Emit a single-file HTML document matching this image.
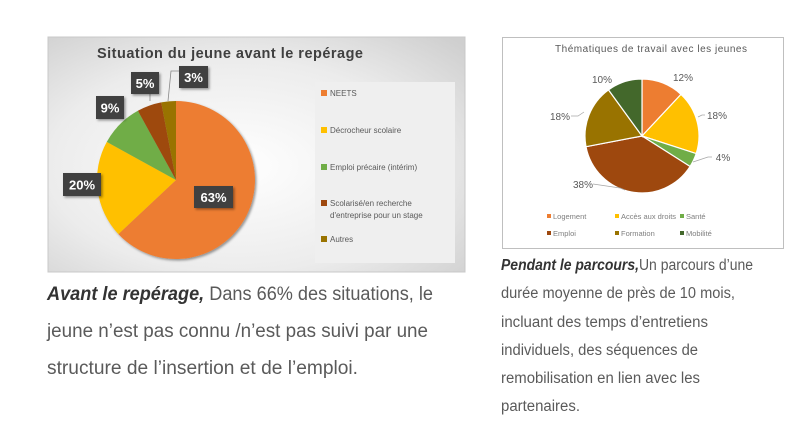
<!DOCTYPE html>
<html><head><meta charset="utf-8"><style>
html,body{margin:0;padding:0;background:#fff;}
svg{display:block;}
</style></head><body>
<svg width="811" height="433" viewBox="0 0 811 433" xmlns="http://www.w3.org/2000/svg" font-family="Liberation Sans, sans-serif">
<defs>
<radialGradient id="bg" cx="0.45" cy="0.55" r="0.75">
<stop offset="0" stop-color="#ffffff"/><stop offset="0.6" stop-color="#ececec"/><stop offset="1" stop-color="#cfcfcf"/>
</radialGradient>
<filter id="sh" x="-20%" y="-20%" width="150%" height="150%"><feDropShadow dx="1.5" dy="1.5" stdDeviation="1.2" flood-opacity="0.4"/></filter>
</defs>
<rect x="0" y="0" width="811" height="433" fill="#fff"/>
<!-- Left chart -->
<rect x="48" y="37" width="417" height="235" fill="url(#bg)" stroke="#c8c8c8" stroke-width="1"/>
<text x="230" y="58" text-anchor="middle" font-size="14.5" font-weight="bold" fill="#404040" textLength="266">Situation du jeune avant le repérage</text>
<g filter="url(#sh)">
<path d="M176,180 L176,101 A79,79 0 1,1 118.4,234.1 Z" fill="#ed7d31"/>
<path d="M176,180 L118.4,234.1 A79,79 0 0,1 106.8,141.9 Z" fill="#ffc000"/>
<path d="M176,180 L106.8,141.9 A79,79 0 0,1 137.9,110.8 Z" fill="#70ad47"/>
<path d="M176,180 L137.9,110.8 A79,79 0 0,1 161.2,102.4 Z" fill="#9e480e"/>
<path d="M176,180 L161.2,102.4 A79,79 0 0,1 176,101 Z" fill="#997300"/>
</g>
<polyline points="150,94 150,101" stroke="#888" stroke-width="0.8" fill="none"/>
<polyline points="179,71 171,71 168,101" stroke="#888" stroke-width="0.8" fill="none"/>
<g font-size="13" font-weight="bold" fill="#fff" text-anchor="middle">
<rect x="194" y="186" width="39" height="22" fill="#404040" filter="url(#sh)"/><text x="213.5" y="202">63%</text>
<rect x="63" y="173" width="38" height="23" fill="#404040" filter="url(#sh)"/><text x="82" y="189.5">20%</text>
<rect x="96" y="96" width="28" height="23" fill="#404040" filter="url(#sh)"/><text x="110" y="112.5">9%</text>
<rect x="131" y="72" width="28" height="22" fill="#404040" filter="url(#sh)"/><text x="145" y="88">5%</text>
<rect x="179" y="66" width="29" height="22" fill="#404040" filter="url(#sh)"/><text x="193.5" y="82">3%</text>
</g>
<rect x="315" y="82" width="140" height="181" fill="#efefef"/>
<g font-size="8" fill="#595959">
<rect x="321" y="90" width="6" height="6" fill="#ed7d31"/><text x="330" y="96">NEETS</text>
<rect x="321" y="127" width="6" height="6" fill="#ffc000"/><text x="330" y="133">Décrocheur scolaire</text>
<rect x="321" y="164" width="6" height="6" fill="#70ad47"/><text x="330" y="170">Emploi précaire (intérim)</text>
<rect x="321" y="200" width="6" height="6" fill="#9e480e"/><text x="330" y="206">Scolarisé/en recherche</text>
<text x="330" y="218">d'entreprise pour un stage</text>
<rect x="321" y="236" width="6" height="6" fill="#997300"/><text x="330" y="242">Autres</text>
</g>
<!-- Right chart -->
<rect x="502.5" y="37.5" width="281" height="211" fill="#fff" stroke="#bfbfbf" stroke-width="1"/>
<text x="651" y="52" text-anchor="middle" font-size="10" fill="#595959" textLength="192">Thématiques de travail avec les jeunes</text>
<g stroke="#fff" stroke-width="1.2">
<path d="M642,136 L642,79 A57,57 0 0,1 681.0,94.4 Z" fill="#ed7d31"/>
<path d="M642,136 L681.0,94.4 A57,57 0 0,1 696.2,153.6 Z" fill="#ffc000"/>
<path d="M642,136 L696.2,153.6 A57,57 0 0,1 690.1,166.5 Z" fill="#70ad47"/>
<path d="M642,136 L690.1,166.5 A57,57 0 0,1 586.0,146.7 Z" fill="#9e480e"/>
<path d="M642,136 L586.0,146.7 A57,57 0 0,1 608.5,89.9 Z" fill="#997300"/>
<path d="M642,136 L608.5,89.9 A57,57 0 0,1 642,79 Z" fill="#43682b"/>
</g>
<g stroke="#a6a6a6" stroke-width="0.7" fill="none">
<polyline points="698,117 702,115 705,115"/>
<polyline points="693,162 708,157 712,157"/>
<polyline points="593,184 620,188 625,190"/>
<polyline points="571,116 578,116 584,112"/>
</g>
<g font-size="10" fill="#595959" text-anchor="middle">
<text x="683" y="81">12%</text>
<text x="717" y="119">18%</text>
<text x="723" y="161">4%</text>
<text x="583" y="188">38%</text>
<text x="560" y="120">18%</text>
<text x="602" y="83">10%</text>
</g>
<g font-size="7.5" fill="#7f7f7f">
<rect x="547" y="214" width="4" height="4" fill="#ed7d31"/><text x="553" y="219">Logement</text>
<rect x="615" y="214" width="4" height="4" fill="#ffc000"/><text x="621" y="219">Accès aux droits</text>
<rect x="680" y="214" width="4" height="4" fill="#70ad47"/><text x="686" y="219">Santé</text>
<rect x="547" y="231" width="4" height="4" fill="#9e480e"/><text x="553" y="236">Emploi</text>
<rect x="615" y="231" width="4" height="4" fill="#997300"/><text x="621" y="236">Formation</text>
<rect x="680" y="231" width="4" height="4" fill="#43682b"/><text x="686" y="236">Mobilité</text>
</g>
<!-- Left paragraph -->
<g font-size="19" fill="#5a5a5a">
<text x="47" y="300" textLength="386" lengthAdjust="spacingAndGlyphs"><tspan font-weight="bold" font-style="italic" fill="#333">Avant le repérage,</tspan> Dans 66% des situations, le</text>
<text x="47" y="337" textLength="381" lengthAdjust="spacingAndGlyphs">jeune n’est pas connu /n’est pas suivi par une</text>
<text x="47" y="374" textLength="311" lengthAdjust="spacingAndGlyphs">structure de l’insertion et de l’emploi.</text>
</g>
<!-- Right paragraph -->
<g font-size="15.5" fill="#5a5a5a">
<text x="501" y="270" textLength="252" lengthAdjust="spacingAndGlyphs"><tspan font-weight="bold" font-style="italic" fill="#333">Pendant le parcours,</tspan>Un parcours d’une</text>
<text x="501" y="298" textLength="234" lengthAdjust="spacingAndGlyphs">durée moyenne de près de 10 mois,</text>
<text x="501" y="327" textLength="207" lengthAdjust="spacingAndGlyphs">incluant des temps d’entretiens</text>
<text x="501" y="355" textLength="197" lengthAdjust="spacingAndGlyphs">individuels, des séquences de</text>
<text x="501" y="383" textLength="199" lengthAdjust="spacingAndGlyphs">remobilisation en lien avec les</text>
<text x="501" y="411" textLength="79" lengthAdjust="spacingAndGlyphs">partenaires.</text>
</g>
</svg>
</body></html>
